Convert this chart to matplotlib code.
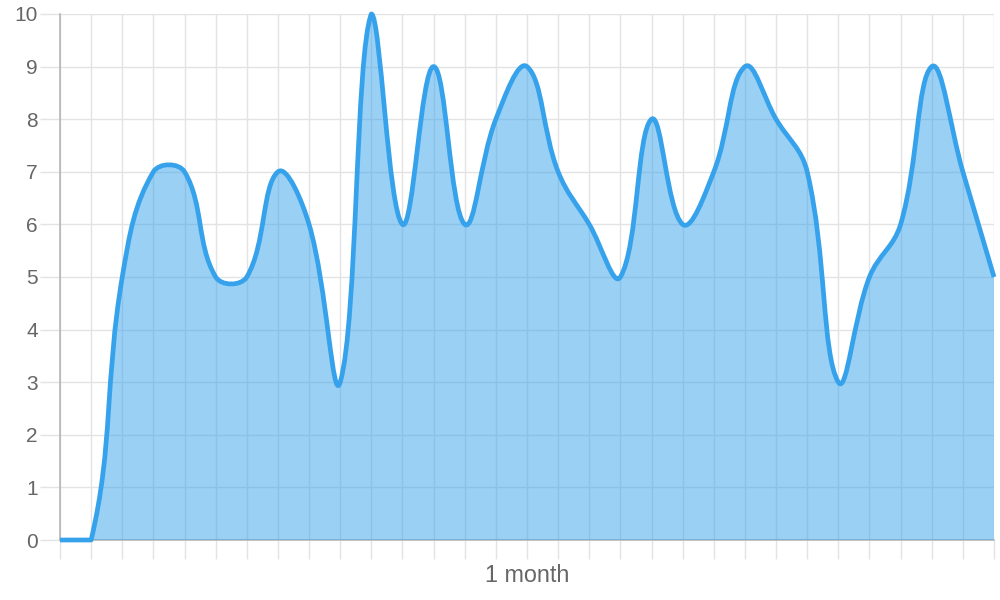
import numpy as np
import matplotlib
matplotlib.use("Agg")
import matplotlib.pyplot as plt
from matplotlib.path import Path
from matplotlib.patches import PathPatch

# ---- data ----
values = [0, 0, 5, 7, 7, 5, 5, 7, 6, 3, 10, 6, 9, 6, 8, 9, 7, 6, 5, 8,
          6, 7, 9, 8, 7, 3, 5, 6, 9, 7, 5]
x_title = "1 month"
y_ticks = [0, 1, 2, 3, 4, 5, 6, 7, 8, 9, 10]

plt.rcParams["font.family"] = ["Liberation Sans", "DejaVu Sans"]

LINE = (54 / 255, 162 / 255, 235 / 255)
FILL = (54 / 255, 162 / 255, 235 / 255, 0.5)
GRID = "#e3e3e3"
AXIS = "#b0b0b0"
TEXT = "#666666"

fig = plt.figure(figsize=(10, 6), dpi=100)
ax = fig.add_axes([0.06, 0.1, 0.934, 0.8767])
n = len(values)
xs = np.arange(n)
ax.set_xlim(0, n - 1)
ax.set_ylim(0, 10)

# ---- Chart.js style bezier (tension 0.4, computed in pixel space) ----
tension = 0.4
pts = ax.transData.transform(np.column_stack([xs, values]).astype(float))
(cl, cb), (cr, ct) = ax.transData.transform([(0, 0), (n - 1, 10)])
cp_prev = np.zeros_like(pts)
cp_next = np.zeros_like(pts)
for i in range(n):
    prev = pts[i - 1] if i > 0 else pts[i]
    cur = pts[i]
    nxt = pts[i + 1] if i < n - 1 else pts[i]
    d01 = np.hypot(*(cur - prev))
    d12 = np.hypot(*(nxt - cur))
    tot = d01 + d12
    s01 = d01 / tot if tot > 0 else 0
    s12 = d12 / tot if tot > 0 else 0
    fa = tension * s01
    fb = tension * s12
    cp_prev[i] = cur - fa * (nxt - prev)
    cp_next[i] = cur + fb * (nxt - prev)
for cp in (cp_prev, cp_next):
    cp[:, 0] = np.clip(cp[:, 0], cl, cr)
    cp[:, 1] = np.clip(cp[:, 1], cb, ct)

inv = ax.transData.inverted()
P = inv.transform(pts)
CP = inv.transform(cp_prev)
CN = inv.transform(cp_next)

verts = [tuple(P[0])]
codes = [Path.MOVETO]
for i in range(1, n):
    verts += [tuple(CN[i - 1]), tuple(CP[i]), tuple(P[i])]
    codes += [Path.CURVE4] * 3

line_path = Path(verts, codes)
fill_verts = verts + [(n - 1, 0), (0, 0), (0, 0)]
fill_codes = codes + [Path.LINETO, Path.LINETO, Path.CLOSEPOLY]
fill_path = Path(fill_verts, fill_codes)

ax.add_patch(PathPatch(fill_path, facecolor=FILL, edgecolor="none", zorder=2))
ax.add_patch(PathPatch(line_path, facecolor="none", edgecolor=LINE, lw=3.4,
                       capstyle="butt", joinstyle="round", zorder=3,
                       clip_on=False))

# ---- axes styling ----
ax.set_xticks(xs)
ax.set_xticklabels([])
ax.set_yticks(y_ticks)
ax.set_yticklabels([str(v) for v in y_ticks])
ax.set_xlabel(x_title, fontsize=16.8, color=TEXT, labelpad=4)
ax.grid(True, color=GRID, lw=1.0, zorder=0)
ax.set_axisbelow(True)
for s in ("top", "right"):
    ax.spines[s].set_visible(False)
for s in ("left", "bottom"):
    ax.spines[s].set_color(AXIS)
    ax.spines[s].set_linewidth(1.1)
    ax.spines[s].set_zorder(1)
ax.tick_params(axis="both", colors=GRID, labelcolor=TEXT, labelsize=15,
               width=1.0)
ax.tick_params(axis="x", length=13.5, pad=0)
ax.tick_params(axis="y", length=14.5, pad=1.5)
ax.xaxis.get_major_ticks()[0].tick1line.set_color(AXIS)

fig.savefig("out.png", dpi=100, facecolor="white")
